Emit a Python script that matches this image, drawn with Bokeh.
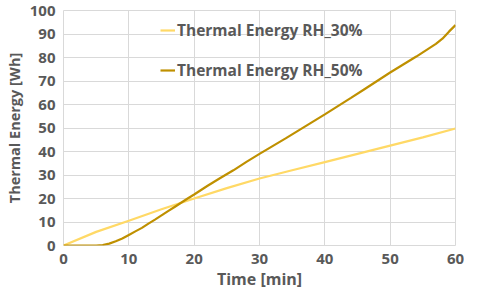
from bokeh.plotting import figure
from bokeh.models import Range1d, FixedTicker, Legend, LegendItem
from bokeh.embed import file_html
from bokeh.resources import INLINE

time_30 = [0, 5, 10, 15, 20, 25, 30, 35, 40, 45, 50, 55, 60]
energy_30 = [0, 5.8, 10.5, 15.4, 20.0, 24.4, 28.5, 32.0, 35.5, 39.0, 42.5, 46.0, 49.8]

time_50 = [0, 1, 2, 3, 4, 5, 6, 7, 8, 9, 10, 11, 12, 13, 14, 15, 16, 17, 18, 19, 20,
           22, 24, 26, 28, 30, 32, 34, 36, 38, 40, 42, 44, 46, 48, 50, 52, 54, 56, 57, 58, 59, 60]
energy_50 = [0, 0, 0, 0, 0, 0, 0.2, 0.8, 1.8, 3.0, 4.5, 6.0, 7.5, 9.3, 11.0, 12.8, 14.6, 16.4, 18.2, 20.0, 21.7,
             25.3, 28.7, 32.0, 35.6, 39.0, 42.3, 45.6, 49.0, 52.4, 55.8, 59.3, 62.8, 66.4, 70.0, 73.6, 77.0, 80.4, 84.0, 85.8, 88.0, 91.0, 93.8]

x_ticks = [0, 10, 20, 30, 40, 50, 60]
y_ticks = [0, 10, 20, 30, 40, 50, 60, 70, 80, 90, 100]

label_30 = "Thermal Energy RH_30%"
label_50 = "Thermal Energy RH_50%"
x_title = "Time [min]"
y_title = "Thermal Energy [Wh]"

FONT = "Open Sans"
GREY = "#595959"

p = figure(width=464, height=292, output_backend="svg", toolbar_location=None,
           x_range=Range1d(0, 60), y_range=Range1d(0, 100),
           min_border_left=63, min_border_right=9, min_border_top=10, min_border_bottom=46)
p.outline_line_color = "#D9D9D9"

r30 = p.line(time_30, energy_30, line_color="#FFD966", line_width=2.2)
r50 = p.line(time_50, energy_50, line_color="#BF9000", line_width=2.2)

for ax, ticks in ((p.xaxis[0], x_ticks), (p.yaxis[0], y_ticks)):
    ax.ticker = FixedTicker(ticks=ticks)
    ax.axis_line_color = None
    ax.major_tick_line_color = None
    ax.minor_tick_line_color = None
    ax.major_tick_out = 0
    ax.major_tick_in = 0
    ax.minor_tick_out = 0
    ax.minor_tick_in = 0
    ax.major_label_text_font = FONT
    ax.major_label_text_font_style = "bold"
    ax.major_label_text_font_size = "15px"
    ax.major_label_text_color = GREY
    ax.axis_label_text_font = FONT
    ax.axis_label_text_font_style = "bold"
    ax.axis_label_text_color = GREY

p.xaxis.axis_label = x_title
p.yaxis.axis_label = y_title
p.xaxis.axis_label_text_font_size = "16px"
p.yaxis.axis_label_text_font_size = "14.5px"
p.xaxis.major_label_standoff = 8
p.xaxis.axis_label_standoff = 1
p.yaxis.major_label_standoff = 8
p.yaxis.axis_label_standoff = 3

p.xgrid.grid_line_color = "#D9D9D9"
p.ygrid.grid_line_color = "#D9D9D9"
p.xgrid.ticker = FixedTicker(ticks=x_ticks)
p.ygrid.ticker = FixedTicker(ticks=y_ticks)

legend = Legend(items=[LegendItem(label=label_30, renderers=[r30]),
                       LegendItem(label=label_50, renderers=[r50])],
                location=(97, 164), orientation="vertical")
legend.background_fill_alpha = 0
legend.border_line_color = None
legend.padding = 0
legend.margin = 0
legend.spacing = 18
legend.glyph_width = 15
legend.label_standoff = 2
legend.label_height = 20
legend.glyph_height = 20
legend.label_text_font = FONT
legend.label_text_font_style = "bold"
legend.label_text_font_size = "15.5px"
legend.label_text_color = GREY
p.add_layout(legend, "center")

open("out.html", "w").write(file_html(p, INLINE))
